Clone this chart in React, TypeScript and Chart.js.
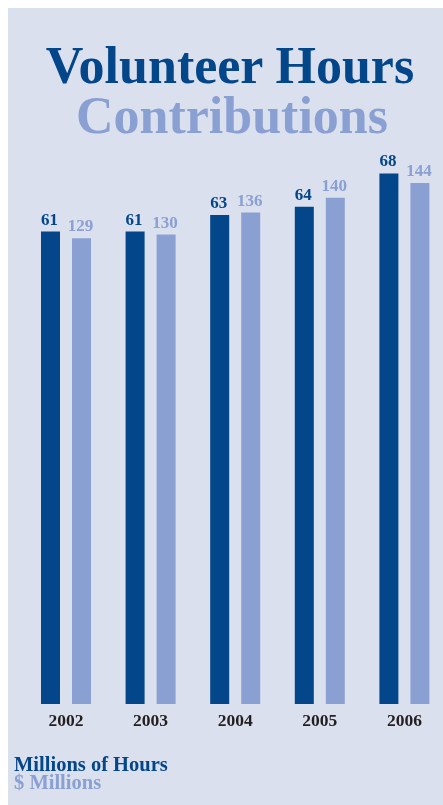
import React, { useEffect, useRef } from "react";
import { Chart, registerables } from "chart.js";

Chart.register(...registerables);

const years = ["2002", "2003", "2004", "2005", "2006"];
const hours = [61, 61, 63, 64, 68];
const dollars = [129, 130, 136, 140, 144];

const DARK = "#03468a";
const LIGHT = "#8aa0d3";
const BG = "#dbe0ee";
const FONT = "'Liberation Serif', 'Times New Roman', serif";

const labelPlugin = {
  id: "barLabels",
  afterDatasetsDraw(chart: any) {
    const ctx = chart.ctx;
    ctx.save();
    ctx.font = `bold 17px ${FONT}`;
    ctx.textAlign = "center";
    ctx.textBaseline = "alphabetic";
    chart.data.datasets.forEach((ds: any, i: number) => {
      const meta = chart.getDatasetMeta(i);
      ctx.fillStyle = ds.backgroundColor;
      meta.data.forEach((el: any, j: number) => {
        ctx.fillText(String(ds.data[j]), el.x - 1, el.y - 7);
      });
    });
    ctx.restore();
  },
};

export default function App() {
  const ref = useRef<HTMLCanvasElement>(null);
  useEffect(() => {
    if (!ref.current) return;
    const chart = new Chart(ref.current, {
      type: "bar",
      data: {
        labels: years,
        datasets: [
          {
            label: "Millions of Hours",
            data: hours,
            backgroundColor: DARK,
            yAxisID: "y",
            categoryPercentage: 0.733,
            barPercentage: 0.613,
          },
          {
            label: "$ Millions",
            data: dollars,
            backgroundColor: LIGHT,
            yAxisID: "y2",
            categoryPercentage: 0.733,
            barPercentage: 0.613,
          },
        ],
      },
      options: {
        animation: false,
        responsive: false,
        maintainAspectRatio: false,
        layout: { padding: { top: 16, left: 15.7, right: 8.3, bottom: 0 } },
        plugins: {
          legend: { display: false },
          tooltip: { enabled: false },
          title: { display: false },
        },
        scales: {
          x: {
            grid: { display: false, drawTicks: false },
            border: { display: false },
            ticks: {
              color: "#231f20",
              font: { family: FONT, size: 17.5, weight: "bold" },
              padding: 7,
            },
            afterFit: (scale: any) => {
              scale.height = 56;
            },
          },
          y: {
            display: false,
            min: 4,
            max: 70.35,
          },
          y2: {
            display: false,
            position: "right",
            min: 2.5,
            max: 151.9,
          },
        },
      },
      plugins: [labelPlugin],
    });
    return () => chart.destroy();
  }, []);

  return (
    <div
      style={{
        position: "absolute",
        left: 8,
        top: 8,
        width: 435,
        height: 797,
        background: BG,
        overflow: "hidden",
        fontFamily: FONT,
      }}
    >
      <div
        style={{
          position: "absolute",
          left: 0,
          width: 444,
          top: 31.5,
          textAlign: "center",
          fontSize: 52,
          lineHeight: "52px",
          fontWeight: "bold",
          color: DARK,
          whiteSpace: "nowrap",
        }}
      >
        Volunteer Hours
      </div>
      <div
        style={{
          position: "absolute",
          left: 0,
          width: 448,
          top: 81.5,
          textAlign: "center",
          fontSize: 52,
          lineHeight: "52px",
          fontWeight: "bold",
          color: LIGHT,
          whiteSpace: "nowrap",
        }}
      >
        Contributions
      </div>
      <canvas
        ref={ref}
        width={447}
        height={622}
        style={{ position: "absolute", left: 0, top: 130, width: 447, height: 622 }}
      />
      <div
        style={{
          position: "absolute",
          left: 6,
          top: 746,
          fontSize: 20.5,
          lineHeight: "20.5px",
          fontWeight: "bold",
          color: DARK,
          whiteSpace: "nowrap",
        }}
      >
        Millions of Hours
      </div>
      <div
        style={{
          position: "absolute",
          left: 6,
          top: 764,
          fontSize: 20.5,
          lineHeight: "20.5px",
          fontWeight: "bold",
          color: LIGHT,
          whiteSpace: "nowrap",
        }}
      >
        $ Millions
      </div>
    </div>
  );
}
